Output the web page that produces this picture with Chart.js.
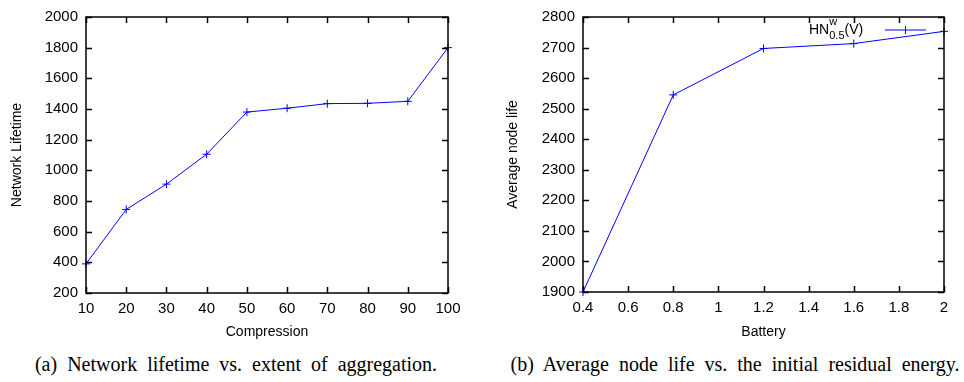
<!DOCTYPE html>
<html>
<head>
<meta charset="utf-8">
<script src="https://cdn.jsdelivr.net/npm/chart.js@4"></script>
<style>
  body { margin: 0; background: #fff; width: 964px; height: 382px; position: relative; overflow: hidden; }
  .box { position: absolute; top: 0; height: 345px; }
  .cap { position: absolute; top: 352px; font-family: "Liberation Serif", "DejaVu Serif", serif; font-size: 20px; line-height: 24px; word-spacing: 5px; color: #000; white-space: nowrap; transform: translateX(-50%); }
</style>
</head>
<body>
<div class="box" style="left:0;width:480px"><canvas id="chartA"></canvas></div>
<div class="box" style="left:480px;width:484px"><canvas id="chartB"></canvas></div>
<div class="cap" style="left:236px">(a) Network lifetime vs. extent of aggregation.</div>
<div class="cap" style="left:735px">(b) Average node life vs. the initial residual energy.</div>
<script>
// left panel
const compression = [10, 20, 30, 40, 50, 60, 70, 80, 90, 100];
const lifetime = [390, 745, 910, 1105, 1380, 1405, 1435, 1437, 1450, 1800];
const ticksAx = [10, 20, 30, 40, 50, 60, 70, 80, 90, 100];
const ticksAy = [200, 400, 600, 800, 1000, 1200, 1400, 1600, 1800, 2000];

// right panel
const battery = [0.4, 0.8, 1.2, 1.6, 2.0];
const nodeLife = [1900, 2545, 2697, 2713, 2753];
const ticksBx = [0.4, 0.6, 0.8, 1.0, 1.2, 1.4, 1.6, 1.8, 2.0];
const ticksBy = [1900, 2000, 2100, 2200, 2300, 2400, 2500, 2600, 2700, 2800];

const FONT = "'Liberation Sans', Arial, sans-serif";
const BLUE = '#0000ff';

const fmt = v => String(Math.round(v * 10) / 10);

// gnuplot style frame with inward ticks on all sides
const framePlugin = {
  id: 'frame',
  afterDraw(chart) {
    const ctx = chart.ctx;
    const a = chart.chartArea;
    const len = 6;
    ctx.save();
    ctx.strokeStyle = '#000';
    ctx.lineWidth = 1.5;
    ctx.strokeRect(a.left, a.top, a.right - a.left, a.bottom - a.top);
    ctx.beginPath();
    chart.scales.x.ticks.forEach(t => {
      const px = Math.round(chart.scales.x.getPixelForValue(t.value)) + 0.5;
      ctx.moveTo(px, a.bottom); ctx.lineTo(px, a.bottom - len);
      ctx.moveTo(px, a.top); ctx.lineTo(px, a.top + len);
    });
    chart.scales.y.ticks.forEach(t => {
      const py = Math.round(chart.scales.y.getPixelForValue(t.value)) + 0.5;
      ctx.moveTo(a.left, py); ctx.lineTo(a.left + len, py);
      ctx.moveTo(a.right, py); ctx.lineTo(a.right - len, py);
    });
    ctx.stroke();
    ctx.restore();
  }
};

// legend with super/subscript for the right panel
const legendPlugin = {
  id: 'hnLegend',
  afterDraw(chart) {
    if (!chart.options.plugins.hnLegend || !chart.options.plugins.hnLegend.show) return;
    const ctx = chart.ctx;
    const a = chart.chartArea;
    const y = a.top + 13;
    let x = a.left + 226;
    ctx.save();
    ctx.fillStyle = '#000';
    ctx.textBaseline = 'middle';
    ctx.font = '14px ' + FONT;
    ctx.fillText('HN', x, y);
    x += ctx.measureText('HN').width;
    ctx.font = '11px ' + FONT;
    ctx.fillText('w', x, y - 8);
    ctx.fillText('0.5', x, y + 6);
    x += ctx.measureText('0.5').width;
    ctx.font = '14px ' + FONT;
    ctx.fillText('(V)', x, y);
    const x0 = a.left + 302, x1 = a.left + 343;
    ctx.strokeStyle = BLUE;
    ctx.lineWidth = 1;
    ctx.beginPath();
    ctx.moveTo(x0, y); ctx.lineTo(x1, y);
    const mx = (x0 + x1) / 2;
    ctx.moveTo(mx, y - 4); ctx.lineTo(mx, y + 4);
    ctx.stroke();
    ctx.restore();
  }
};

function makeChart(id, xs, ys, xt, yt, xTitle, yTitle, cfg) {
  return new Chart(document.getElementById(id), {
    type: 'line',
    data: {
      datasets: [{
        label: yTitle,
        data: xs.map((v, i) => ({ x: v, y: ys[i] })),
        borderColor: BLUE,
        backgroundColor: BLUE,
        borderWidth: 1,
        pointStyle: 'cross',
        pointRadius: 4,
        pointBorderWidth: 1,
        tension: 0,
        clip: false
      }]
    },
    options: {
      responsive: false,
      animation: false,
      layout: { padding: { left: 0, top: 12, right: cfg.padRight, bottom: 0 } },
      plugins: {
        legend: { display: false },
        tooltip: { enabled: false },
        hnLegend: { show: cfg.legend }
      },
      scales: {
        x: {
          type: 'linear',
          min: xt[0], max: xt[xt.length - 1],
          afterBuildTicks: s => { s.ticks = xt.map(v => ({ value: v })); },
          afterFit: s => { s.height = cfg.xHeight; },
          grid: { display: false, drawTicks: false },
          border: { display: false },
          ticks: { color: '#000', font: { family: FONT, size: 15 }, padding: 7, maxRotation: 0, callback: fmt },
          title: { display: true, text: xTitle, color: '#000', font: { family: FONT, size: 14 }, padding: { top: 4, bottom: 4 } }
        },
        y: {
          type: 'linear',
          min: yt[0], max: yt[yt.length - 1],
          afterBuildTicks: s => { s.ticks = yt.map(v => ({ value: v })); },
          afterFit: s => { s.width = cfg.yWidth; },
          grid: { display: false, drawTicks: false },
          border: { display: false },
          ticks: { color: '#000', font: { family: FONT, size: 15 }, padding: 8, callback: fmt },
          title: { display: true, text: yTitle, color: '#000', font: { family: FONT, size: 14 }, padding: { top: cfg.yTitlePad, bottom: 0 } }
        }
      }
    },
    plugins: [framePlugin, legendPlugin]
  });
}

document.getElementById('chartA').width = 480;
document.getElementById('chartA').height = 345;
document.getElementById('chartB').width = 484;
document.getElementById('chartB').height = 345;

makeChart('chartA', compression, lifetime, ticksAx, ticksAy, 'Compression', 'Network Lifetime',
  { padRight: 32, xHeight: 52, yWidth: 86, yTitlePad: 9, legend: false });
makeChart('chartB', battery, nodeLife, ticksBx, ticksBy, 'Battery', 'Average node life',
  { padRight: 20, xHeight: 53, yWidth: 103, yTitlePad: 25, legend: true });
</script>
</body>
</html>
